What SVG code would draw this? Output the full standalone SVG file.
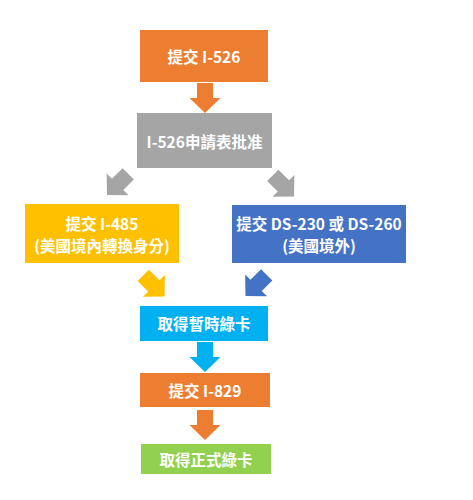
<svg xmlns="http://www.w3.org/2000/svg" width="473" height="500" viewBox="0 0 473 500">
<defs>
<path id="arr" d="M-8,-30 H8 V-15 H15.5 L0,0 L-15.5,-15 H-8 Z"/>
<style>
.t{font-family:"Noto Sans CJK TC","Noto Sans",sans-serif;font-size:15.5px;font-weight:bold;fill:#fff;text-anchor:middle;dominant-baseline:central}
.orange{fill:#ED7D31}.gray{fill:#A5A5A5}.yellow{fill:#FFC000}.blue{fill:#4472C4}.cyan{fill:#00B0F0}.green{fill:#92D050}
</style>
</defs>
<rect width="473" height="500" fill="#fff"/>
<g id="connectors">
<use href="#arr" class="orange" transform="translate(205,113)"/>
<use href="#arr" class="gray" transform="translate(107,195) rotate(45)"/>
<use href="#arr" class="gray" transform="translate(294,196.5) rotate(-45)"/>
<use href="#arr" class="yellow" transform="translate(164.5,296.5) rotate(-45)"/>
<use href="#arr" class="blue" transform="translate(245.5,296) rotate(45)"/>
<use href="#arr" class="cyan" transform="translate(205,372)"/>
<use href="#arr" class="orange" transform="translate(205,440)"/>
</g>
<g id="n1"><rect class="orange" x="140" y="30" width="128" height="52"/><text class="t" x="204" y="56">提交 I-526</text></g>
<g id="n2"><rect class="gray" x="137" y="113" width="135" height="55"/><text class="t" x="204.5" y="140.5">I-526申請表批准</text></g>
<g id="n3"><rect class="yellow" x="25" y="204" width="154" height="59"/><text class="t" x="102" y="223">提交 I-485</text><text class="t" x="102" y="245">(美國境內轉換身分)</text></g>
<g id="n4"><rect class="blue" x="232" y="205" width="174" height="58"/><text class="t" x="319" y="223">提交 DS-230 或 DS-260</text><text class="t" x="319" y="245">(美國境外)</text></g>
<g id="n5"><rect class="cyan" x="140" y="306" width="128" height="35"/><text class="t" x="204" y="323">取得暫時綠卡</text></g>
<g id="n6"><rect class="orange" x="140" y="373" width="130" height="34"/><text class="t" x="205" y="390">提交 I-829</text></g>
<g id="n7"><rect class="green" x="141" y="444" width="130" height="30"/><text class="t" x="206" y="459">取得正式綠卡</text></g>
</svg>
